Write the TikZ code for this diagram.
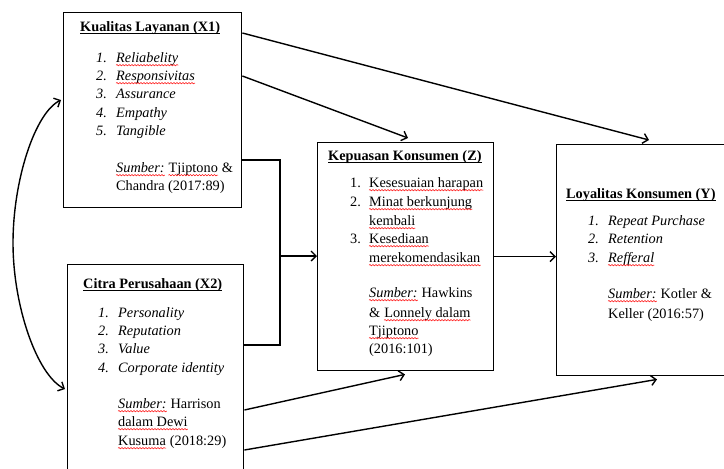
\documentclass[tikz,border=0pt]{standalone}
\usepackage{fontspec}
\setmainfont{Liberation Serif}
\usetikzlibrary{arrows.meta,calc,decorations.pathmorphing}
\tikzset{
  box/.style={draw, line width=1.4pt, anchor=north west, inner sep=0pt},
  arr/.style={line width=1.4pt, -{Straight Barb[length=5pt,width=10pt]}},
  arr2/.style={line width=1.4pt, {Straight Barb[length=5pt,width=10pt]}-{Straight Barb[length=5pt,width=10pt]}},
  ln/.style={line width=1.2pt},
  txt/.style={anchor=base west, inner sep=0pt, font=\fontsize{14.3pt}{18.3pt}\selectfont},
  wave/.style={draw=red, line width=0.5pt, decorate, decoration={snake, amplitude=0.7pt, segment length=3pt}},
  uline/.style={draw, line width=0.8pt},
}
\begin{document}
\begin{tikzpicture}[x=1pt,y=-1pt]
\useasboundingbox (0,0) rectangle (724,469);
\clip (0,0) rectangle (724,469);
% boxes
\node[box, minimum width=178pt, minimum height=195pt] (X1) at (63,12) {};
\node[box, minimum width=176pt, minimum height=230pt] (X2) at (67,264) {};
\node[box, minimum width=176pt, minimum height=228pt] (Z) at (317,142) {};
\node[box, minimum width=200pt, minimum height=231pt] (Y) at (556,144) {};
% X1 text
\node[txt] (X1t) at (80,31) {\textbf{Kualitas Layanan (X1)}};
\node[txt] (X1n1) at (96,62) {\textit{1.}};
\node[txt] (X1n2) at (96,80) {\textit{2.}};
\node[txt] (X1n3) at (96,98) {\textit{3.}};
\node[txt] (X1n4) at (96,117) {\textit{4.}};
\node[txt] (X1n5) at (96,135) {\textit{5.}};
\node[txt] (X1a) at (116,62) {\textit{Reliabelity}};
\node[txt] (X1b) at (116,80) {\textit{Responsivitas}};
\node[txt] (X1c) at (116,98) {\textit{Assurance}};
\node[txt] (X1d) at (116,117) {\textit{Empathy}};
\node[txt] (X1e) at (116,135) {\textit{Tangible}};
\node[txt] (X1s1a) at (116,172) {\textit{Sumber:}};
\node[txt] (X1s1b) at ($(X1s1a.base east)+(3.6,0)$) {Tjiptono};
\node[txt] (X1s1c) at ($(X1s1b.base east)+(3.6,0)$) {\&};
\node[txt] (X1s2) at (116,190) {Chandra (2017:89)};
% X2 text
\node[txt] (X2t) at (83,288) {\textbf{Citra Perusahaan (X2)}};
\node[txt] (X2n1) at (98,317) {\textit{1.}};
\node[txt] (X2n2) at (98,335) {\textit{2.}};
\node[txt] (X2n3) at (98,353) {\textit{3.}};
\node[txt] (X2n4) at (98,372) {\textit{4.}};
\node[txt] (X2a) at (118,317) {\textit{Personality}};
\node[txt] (X2b) at (118,335) {\textit{Reputation}};
\node[txt] (X2c) at (118,353) {\textit{Value}};
\node[txt] (X2d) at (118,372) {\textit{Corporate identity}};
\node[txt] (X2s1a) at (118,408) {\textit{Sumber:}};
\node[txt] (X2s1b) at ($(X2s1a.base east)+(3.6,0)$) {Harrison};
\node[txt] (X2s2) at (118,426) {dalam Dewi};
\node[txt] (X2s3a) at (118,445) {Kusuma};
\node[txt] (X2s3b) at ($(X2s3a.base east)+(3.6,0)$) {(2018:29)};
% Z text
\node[txt] (Zt) at (328,160) {\textbf{Kepuasan Konsumen (Z)}};
\node[txt] (Zn1) at (350,187) {1.};
\node[txt] (Zn2) at (350,206) {2.};
\node[txt] (Zn3) at (350,243) {3.};
\node[txt] (Za) at (369,187) {Kesesuaian harapan};
\node[txt] (Zb1) at (369,206) {Minat berkunjung};
\node[txt] (Zb2) at (369,225) {kembali};
\node[txt] (Zc1) at (369,243) {Kesediaan};
\node[txt] (Zc2) at (369,262) {merekomendasikan};
\node[txt] (Zs1a) at (369,297) {\textit{Sumber:}};
\node[txt] (Zs1b) at ($(Zs1a.base east)+(3.6,0)$) {Hawkins};
\node[txt] (Zs2a) at (369,317) {\&};
\node[txt] (Zs2b) at ($(Zs2a.base east)+(3.6,0)$) {Lonnely dalam};
\node[txt] (Zs3) at (369,335) {Tjiptono};
\node[txt] (Zs4) at (369,353) {(2016:101)};
% Y text
\node[txt] (Yt) at (566,198) {\textbf{Loyalitas Konsumen (Y)}};
\node[txt] (Yn1) at (588,225) {\textit{1.}};
\node[txt] (Yn2) at (588,243) {\textit{2.}};
\node[txt] (Yn3) at (588,262) {\textit{3.}};
\node[txt] (Ya) at (608,225) {\textit{Repeat Purchase}};
\node[txt] (Yb) at (608,243) {\textit{Retention}};
\node[txt] (Yc) at (608,262) {\textit{Refferal}};
\node[txt] (Ys1a) at (608,298) {\textit{Sumber:}};
\node[txt] (Ys1b) at ($(Ys1a.base east)+(3.6,0)$) {Kotler \&};
\node[txt] (Ys2) at (608,318) {Keller (2016:57)};
% title underlines
\foreach \n in {X1t,X2t,Zt,Yt}
  \draw[uline] ($(\n.base west)+(0,2.2)$) -- ($(\n.base east)+(0,2.2)$);
% spelling squiggles
\foreach \n in {X1a,X1b,X1s1a,X1s1b,X2s1a,X2s2,X2s3a,Za,Zb1,Zb2,Zc1,Zc2,Zs1a,Zs2b,Zs3,Yc,Ys1a}
  \draw[wave] ($(\n.base west)+(0,3.2)$) -- ($(\n.base east)+(0,3.2)$);
% connectors
\coordinate (j) at (280,256);
\coordinate (m) at (13,243);
\draw[arr] ($(X1.north east)+(0,21)$) -- ($(Y.north west)+(93,-4)$);
\draw[arr] ($(X1.north east)+(0,64)$) -- ($(Z.north west)+(91,-4)$);
\draw[ln] ($(X1.north east)+(0,148)$) -| (j) |- ($(X2.north east)+(0,81)$);
\draw[arr] (j) -- (j -| Z.west);
\draw[arr] (Z.east) -- (Z.east -| Y.west);
\draw[arr] ($(X2.north east)+(0,146)$) -- ($(Z.south west)+(88,3)$);
\draw[arr] ($(X2.north east)+(0,186)$) -- ($(Y.south west)+(101,3)$);
\draw[arr2] ($(X1.north west)+(-2,88)$) .. controls (35,113) and (13,180) .. (m) .. controls (13,306) and (37,375) .. ($(X2.north west)+(-2,125)$);
\end{tikzpicture}
\end{document}
